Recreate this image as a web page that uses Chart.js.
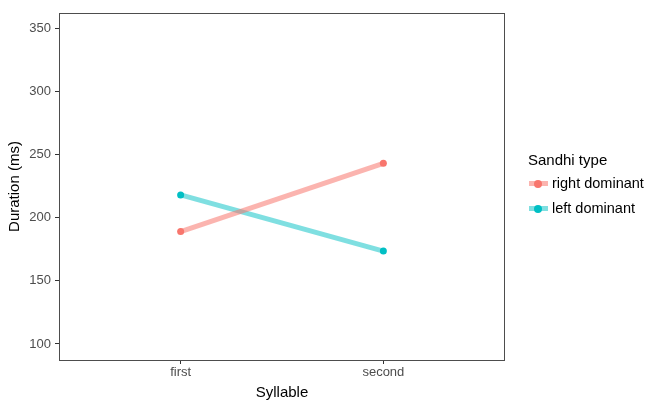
<!DOCTYPE html>
<html>
<head>
<meta charset="utf-8">
<script src="https://cdn.jsdelivr.net/npm/chart.js@4"></script>
<style>
  html, body { margin: 0; padding: 0; background: #fff; }
  #wrap { position: relative; width: 646px; height: 400px; }
  #legend { position: absolute; left: 528px; top: 151px; font-family: "Liberation Sans", Arial, sans-serif; color: #000; }
  #legend .title { font-size: 15px; margin-bottom: 3px; }
  #legend .item { position: relative; height: 25px; font-size: 14.5px; line-height: 25px; padding-left: 24px; white-space: nowrap; }
  #legend .line { position: absolute; left: 1px; top: 10px; width: 19px; height: 5px; }
  #legend .dot { position: absolute; left: 6px; top: 8.5px; width: 8px; height: 8px; border-radius: 50%; }
</style>
</head>
<body>
<div id="wrap">
  <canvas id="chart" width="646" height="400"></canvas>
  <div id="legend"></div>
</div>
<script>
// Données
const syllables = ['first', 'second'];
const sandhiTypes = ['right dominant', 'left dominant'];
const rightDominant = [189, 243];
const leftDominant = [218, 173.5];
const yTicks = [100, 150, 200, 250, 300, 350];

const colors = ['#F8766D', '#00BFC4'];
const lineColors = ['rgba(248,118,109,0.55)', 'rgba(0,191,196,0.5)'];

// Cadre du panneau (style ggplot)
const panelBorder = {
    id: 'panelBorder',
    afterDraw(chart) {
        const a = chart.chartArea;
        const ctx = chart.ctx;
        ctx.save();
        ctx.strokeStyle = '#4d4d4d';
        ctx.lineWidth = 1;
        ctx.strokeRect(a.left + 0.5, a.top + 0.5, a.right - a.left - 1, a.bottom - a.top);
        ctx.restore();
    }
};

function makeData(values, i) {
    return {
        label: sandhiTypes[i],
        data: values.map((v, k) => ({ x: k + 1, y: v })),
        borderColor: lineColors[i],
        borderWidth: 5,
        pointBackgroundColor: colors[i],
        pointBorderColor: colors[i],
        pointRadius: 3.5,
        pointBorderWidth: 0,
        showLine: true,
        tension: 0
    };
}

new Chart(document.getElementById('chart'), {
    type: 'scatter',
    data: {
        datasets: [makeData(rightDominant, 0), makeData(leftDominant, 1)]
    },
    options: {
        responsive: false,
        animation: false,
        layout: { padding: { top: 13, right: 141, left: 0, bottom: 0 } },
        plugins: {
            legend: { display: false },
            tooltip: { enabled: false }
        },
        scales: {
            x: {
                type: 'linear',
                min: 0.4,
                max: 2.6,
                afterBuildTicks: s => { s.ticks = syllables.map((c, k) => ({ value: k + 1 })); },
                afterFit: s => { s.height = 40; },
                ticks: {
                    callback: v => syllables[v - 1],
                    color: '#4d4d4d',
                    font: { family: 'Liberation Sans', size: 13 },
                    padding: 1,
                    maxRotation: 0
                },
                grid: { drawOnChartArea: false, drawTicks: true, tickLength: 4, color: '#333' },
                border: { display: false },
                title: {
                    display: true,
                    text: 'Syllable',
                    color: '#000',
                    font: { family: 'Liberation Sans', size: 15 },
                    padding: { top: 0, bottom: -2 }
                }
            },
            y: {
                min: 87.3,
                max: 362,
                afterBuildTicks: s => { s.ticks = yTicks.map(v => ({ value: v })); },
                afterFit: s => { s.width = 59; },
                ticks: {
                    color: '#4d4d4d',
                    font: { family: 'Liberation Sans', size: 13 },
                    padding: 4
                },
                grid: { drawOnChartArea: false, drawTicks: true, tickLength: 4, color: '#333' },
                border: { display: false },
                title: {
                    display: true,
                    text: 'Duration (ms)',
                    color: '#000',
                    font: { family: 'Liberation Sans', size: 15 },
                    padding: { top: 6, bottom: 0 }
                }
            }
        }
    },
    plugins: [panelBorder]
});

// Légende à droite
const legend = document.getElementById('legend');
legend.innerHTML = '<div class="title">Sandhi type</div>';
sandhiTypes.forEach((name, i) => {
    const item = document.createElement('div');
    item.className = 'item';
    item.innerHTML = '<span class="line" style="background:' + lineColors[i] + '"></span>' +
        '<span class="dot" style="background:' + colors[i] + '"></span>' + name;
    legend.appendChild(item);
});
</script>
</body>
</html>
